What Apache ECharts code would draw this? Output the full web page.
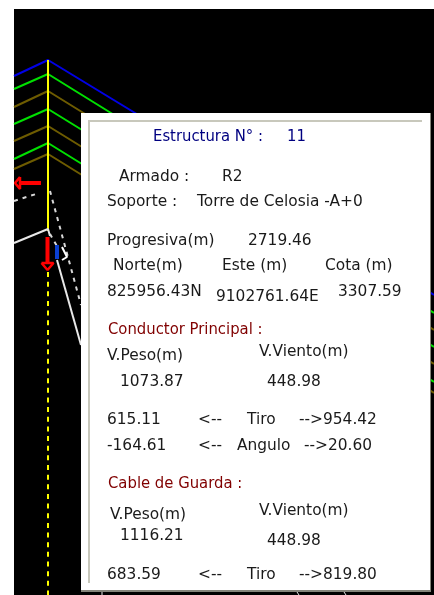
<!DOCTYPE html>
<html>
<head>
<meta charset="utf-8">
<style>
  html, body { margin: 0; padding: 0; background: #fff; }
  #chart { width: 434px; height: 595px; filter: blur(0.4px); }
</style>
<script src="https://cdn.jsdelivr.net/npm/echarts@6/dist/echarts.min.js"></script>
</head>
<body>
<div id="chart"></div>
<script>
// polylines, as [station, elevation] in picture units
const blueWire = [[14, 76], [48, 60], [434, 295]]
const greenWires = [
  [[14, 89], [48, 74], [434, 313]],
  [[14, 124], [48, 109], [434, 347]],
  [[14, 159], [48, 143], [434, 382]],
]
const oliveWires = [
  [[14, 107], [48, 91], [434, 330]],
  [[14, 141], [48, 126], [434, 364]],
  [[14, 169], [48, 154], [434, 393]],
]
const yellowSolid = [[48, 60], [48, 231]]
const yellowDashed = [[48, 272], [48, 595]]
const whiteSolid = [
  [[14, 243], [48, 229], [50, 236]],
  [[57, 260], [81, 345]],
]
const whiteDashed = [
  [[14, 201], [36, 194]],
  [[50, 191], [81, 305]],
  [[50, 234], [58, 248]],
]
const whiteTicks = [
  [[102, 592], [102, 595]],
  [[297, 592], [299, 595]],
  [[344, 592], [346, 595]],
]
const siteMark = [[57, 245], [57, 259]]
const siteMarkLabel = [[62, 247], [64, 251], [67, 257], [62, 260]]
const redShafts = [
  [[20, 183], [41, 183]],
  [[47.5, 237], [47.5, 263]],
]
const redHeads = [
  [[20, 177], [15, 183], [20, 189], [20, 177]],
  [[41.5, 263], [53.5, 263], [47.5, 270], [41.5, 263]],
]

// dialog texts
const titleTexts = ['Estructura N° :', '11']
const fieldNames = ['Armado :', 'Soporte :', 'Progresiva(m)', 'Norte(m)', 'Este (m)', 'Cota (m)']
const fieldValues = ['R2', 'Torre de Celosia -A+0', '2719.46', '825956.43N', '9102761.64E', '3307.59']
const sectionTitles = ['Conductor Principal :', 'Cable de Guarda :']
const spanNames = ['V.Peso(m)', 'V.Viento(m)']
const conductorSpans = ['1073.87', '448.98']
const guardSpans = ['1116.21', '448.98']
const rowNames = ['Tiro', 'Angulo']
const conductorTiro = ['615.11', '-->954.42']
const conductorAngulo = ['-164.61', '-->20.60']
const guardTiro = ['683.59', '-->819.80']
const backArrow = '<--'

const NAVY = '#000080'
const DARKRED = '#800000'
const INK = '#1a1a1a'
const BODY = '15.4px "DejaVu Sans", sans-serif'
const HEAD = '16.5px "DejaVu Sans Condensed", "DejaVu Sans", sans-serif'

// text, x, centre y, colour, font
const textLayout = [
  [titleTexts[0], 153, 137, NAVY, HEAD],
  [titleTexts[1], 287, 137, NAVY, HEAD],
  [fieldNames[0], 119, 177, INK, BODY],
  [fieldValues[0], 222, 177, INK, BODY],
  [fieldNames[1], 107, 202, INK, BODY],
  [fieldValues[1], 197, 202, INK, BODY],
  [fieldNames[2], 107, 241, INK, BODY],
  [fieldValues[2], 248, 241, INK, BODY],
  [fieldNames[3], 113, 266, INK, BODY],
  [fieldNames[4], 222, 266, INK, BODY],
  [fieldNames[5], 325, 266, INK, BODY],
  [fieldValues[3], 107, 292, INK, BODY],
  [fieldValues[4], 216, 297, INK, BODY],
  [fieldValues[5], 338, 292, INK, BODY],
  [sectionTitles[0], 108, 330, DARKRED, HEAD],
  [spanNames[0], 107, 356, INK, BODY],
  [spanNames[1], 259, 352, INK, BODY],
  [conductorSpans[0], 120, 382, INK, BODY],
  [conductorSpans[1], 267, 382, INK, BODY],
  [conductorTiro[0], 107, 420, INK, BODY],
  [backArrow, 198, 420, INK, BODY],
  [rowNames[0], 247, 420, INK, BODY],
  [conductorTiro[1], 299, 420, INK, BODY],
  [conductorAngulo[0], 107, 446, INK, BODY],
  [backArrow, 198, 446, INK, BODY],
  [rowNames[1], 237, 446, INK, BODY],
  [conductorAngulo[1], 304, 446, INK, BODY],
  [sectionTitles[1], 108, 484, DARKRED, HEAD],
  [spanNames[0], 110, 515, INK, BODY],
  [spanNames[1], 259, 511, INK, BODY],
  [guardSpans[0], 120, 536, INK, BODY],
  [guardSpans[1], 267, 541, INK, BODY],
  [guardTiro[0], 107, 575, INK, BODY],
  [backArrow, 198, 575, INK, BODY],
  [rowNames[0], 247, 575, INK, BODY],
  [guardTiro[1], 299, 575, INK, BODY],
]

// window of the dialog: x0, y0, x1, y1, colour
const dialogRects = [
  [81, 113, 431, 592, '#84847a'],
  [81, 113, 430, 590, '#ffffff'],
  [88, 120, 422, 122, '#c8c8bc'],
  [88, 120, 90, 583, '#c8c8bc'],
]

function wire(data, color, width, extra) {
  return {
    type: 'line',
    data,
    showSymbol: false,
    silent: true,
    animation: false,
    z: 2,
    lineStyle: Object.assign({ color, width }, extra),
  }
}

const chart = echarts.init(document.getElementById('chart'), null, { renderer: 'canvas' })

chart.setOption({
  animation: false,
  backgroundColor: '#ffffff',
  grid: { left: 14, top: 9, right: 0, bottom: 0, show: true, backgroundColor: '#000000', borderWidth: 0 },
  xAxis: { type: 'value', min: 14, max: 434, show: false },
  yAxis: { type: 'value', min: 9, max: 595, inverse: true, show: false },
  series: [
    wire(blueWire, '#0000e6', 2),
    ...greenWires.map(d => wire(d, '#00e000', 2)),
    ...oliveWires.map(d => wire(d, '#6e5c00', 2)),
    wire(yellowSolid, '#ffff00', 2),
    wire(yellowDashed, '#ffff00', 2, { type: [5, 4.65] }),
    ...whiteSolid.map(d => wire(d, '#e8e8e8', 2)),
    ...whiteDashed.map(d => wire(d, '#d8d8d8', 2, { type: [4, 5] })),
    ...whiteTicks.map(d => wire(d, '#e8e8e8', 1)),
    wire(siteMark, '#0a40d0', 4),
    wire(siteMarkLabel, '#ffffff', 2),
    ...redShafts.map(d => wire(d, '#ff0000', 4)),
    ...redHeads.map(d => wire(d, '#ff0000', 2.5)),
    {
      type: 'custom',
      coordinateSystem: 'cartesian2d',
      silent: true,
      animation: false,
      clip: false,
      z: 5,
      data: dialogRects.map((r, i) => [r[0], r[1], r[2], r[3], i]),
      renderItem(params, api) {
        const a = api.coord([api.value(0), api.value(1)])
        const b = api.coord([api.value(2), api.value(3)])
        return {
          type: 'rect',
          shape: { x: a[0], y: a[1], width: b[0] - a[0], height: b[1] - a[1] },
          style: { fill: dialogRects[api.value(4)][4] },
        }
      },
    },
    {
      type: 'custom',
      coordinateSystem: 'cartesian2d',
      silent: true,
      animation: false,
      clip: false,
      z: 6,
      data: textLayout.map((t, i) => [t[1], t[2], i]),
      renderItem(params, api) {
        const t = textLayout[api.value(2)]
        const p = api.coord([api.value(0), api.value(1)])
        return {
          type: 'text',
          x: p[0],
          y: p[1],
          style: {
            text: t[0],
            fill: t[3],
            font: t[4],
            align: 'left',
            verticalAlign: 'middle',
          },
        }
      },
    },
  ],
})
</script>
</body>
</html>
